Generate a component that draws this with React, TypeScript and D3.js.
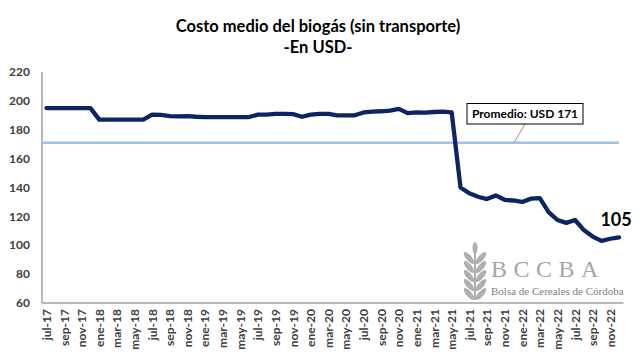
import React from 'react';
import * as d3 from 'd3';

// Months shown on the axis (every second one gets a label)
const months = [
  'jul-17', 'ago-17', 'sep-17', 'oct-17', 'nov-17', 'dic-17',
  'ene-18', 'feb-18', 'mar-18', 'abr-18', 'may-18', 'jun-18',
  'jul-18', 'ago-18', 'sep-18', 'oct-18', 'nov-18', 'dic-18',
  'ene-19', 'feb-19', 'mar-19', 'abr-19', 'may-19', 'jun-19',
  'jul-19', 'ago-19', 'sep-19', 'oct-19', 'nov-19', 'dic-19',
  'ene-20', 'feb-20', 'mar-20', 'abr-20', 'may-20', 'jun-20',
  'jul-20', 'ago-20', 'sep-20', 'oct-20', 'nov-20', 'dic-20',
  'ene-21', 'feb-21', 'mar-21', 'abr-21', 'may-21', 'jun-21',
  'jul-21', 'ago-21', 'sep-21', 'oct-21', 'nov-21', 'dic-21',
  'ene-22', 'feb-22', 'mar-22', 'abr-22', 'may-22', 'jun-22',
  'jul-22', 'ago-22', 'sep-22', 'oct-22', 'nov-22', 'dic-22',
];

// Cost in USD
const cost = [
  195, 195, 195, 195, 195, 195,
  187, 187, 187, 187, 187, 187,
  190.5, 190.3, 189.5, 189.3, 189.5, 189,
  188.8, 188.8, 188.8, 188.8, 188.8, 188.8,
  190.5, 190.5, 191, 191, 190.8, 189,
  190.5, 191, 191, 190, 190, 190,
  192, 192.5, 192.8, 193.3, 194.5, 191.5,
  192, 191.8, 192.3, 192.5, 192, 140,
  136, 133.6, 132, 134.5, 131.5, 131,
  130, 132.3, 132.7, 123, 117.5, 115.5,
  117.5, 110.5, 106, 103, 104.5, 105.5,
];

const average = 171;
const yTicks = [60, 80, 100, 120, 140, 160, 180, 200, 220];
const lastLabel = '105';

const W = 640;
const H = 362;
const font = 'Lato, "Open Sans", sans-serif';

function Wheat({ x, y }: { x: number; y: number }) {
  // simple grain-stalk mark for the watermark
  const leaves = [0, 1, 2, 3, 4];
  return (
    <g transform={`translate(${x},${y})`} fill="#b0b0b0">
      <path d="M13,4 L13,56" stroke="#b0b0b0" strokeWidth={2} />
      <ellipse cx={13} cy={4} rx={2.5} ry={6} />
      {leaves.map(i => (
        <g key={i}>
          <ellipse cx={7} cy={14 + i * 9} rx={2.8} ry={7.5} transform={`rotate(-40,7,${14 + i * 9})`} />
          <ellipse cx={19} cy={14 + i * 9} rx={2.8} ry={7.5} transform={`rotate(40,19,${14 + i * 9})`} />
        </g>
      ))}
    </g>
  );
}

export default function App() {
  const x = d3.scaleBand<string>().domain(months).range([42, 623.5]).padding(0);
  const y = d3.scaleLinear().domain([60, 220]).range([303, 72]);
  const cx = (m: string) => (x(m) ?? 0) + x.bandwidth() / 2;

  const line = d3.line<number>()
    .x((_, i) => cx(months[i]))
    .y(d => y(d));

  const lastX = cx(months[months.length - 1]);
  const lastY = y(cost[cost.length - 1]);
  const avgY = y(average);

  return (
    <svg width={W} height={H} style={{ position: 'absolute', left: 0, top: 0, background: '#fff' }}
      fontFamily={font}>
      {/* title */}
      <text x={318} y={32} textAnchor="middle" fontSize={16.5} fontWeight="bold" fill="#000">
        Costo medio del biogás (sin transporte)
      </text>
      <text x={318} y={53} textAnchor="middle" fontSize={16.5} fontWeight="bold" fill="#000">
        -En USD-
      </text>

      {/* watermark */}
      <Wheat x={462} y={244} />
      <text x={491} y={277} fontFamily='"Liberation Serif", "DejaVu Serif", serif' fontSize={24}
        letterSpacing={6.5} fill="#a6a6a6">BCCBA</text>
      <text x={491} y={295} fontFamily='"Liberation Serif", "DejaVu Serif", serif' fontSize={11}
        fill="#808080">Bolsa de Cereales de Córdoba</text>

      {/* axes */}
      <line x1={42} x2={42} y1={y(220)} y2={y(60)} stroke="#a0a0a0" strokeWidth={1.5} />
      <line x1={42} x2={623.5} y1={y(60)} y2={y(60)} stroke="#a0a0a0" strokeWidth={1.5} />

      {yTicks.map(t => (
        <text key={t} x={30} y={y(t)} dy="0.35em" textAnchor="end" fontSize={12} fontWeight="bold" fill="#404040">
          {t}
        </text>
      ))}

      {months.map((m, i) => i % 2 === 0 && (
        <text key={m} transform={`translate(${cx(m) + 4.5},309) rotate(-90)`} textAnchor="end"
          fontSize={12} fontWeight="bold" fill="#404040">
          {m}
        </text>
      ))}

      {/* average */}
      <line x1={42} x2={lastX} y1={avgY} y2={avgY} stroke="#9dc3e6" strokeWidth={2.5} />
      <line x1={525} y1={124} x2={514} y2={avgY} stroke="#909090" strokeWidth={1} />
      <rect x={467} y={103.5} width={116} height={20.5} fill="#fff" stroke="#000" strokeWidth={1} />
      <text x={525} y={114} dy="0.35em" textAnchor="middle" fontSize={12} fontWeight="bold" fill="#000">
        Promedio: USD {average}
      </text>

      {/* series */}
      <path d={line(cost) ?? ''} fill="none" stroke="#0b2463" strokeWidth={4.3} strokeLinejoin="round" strokeLinecap="round" />

      <text x={lastX - 3} y={lastY - 11} textAnchor="middle" fontSize={18} fontWeight="bold" fill="#000">
        {lastLabel}
      </text>
    </svg>
  );
}
